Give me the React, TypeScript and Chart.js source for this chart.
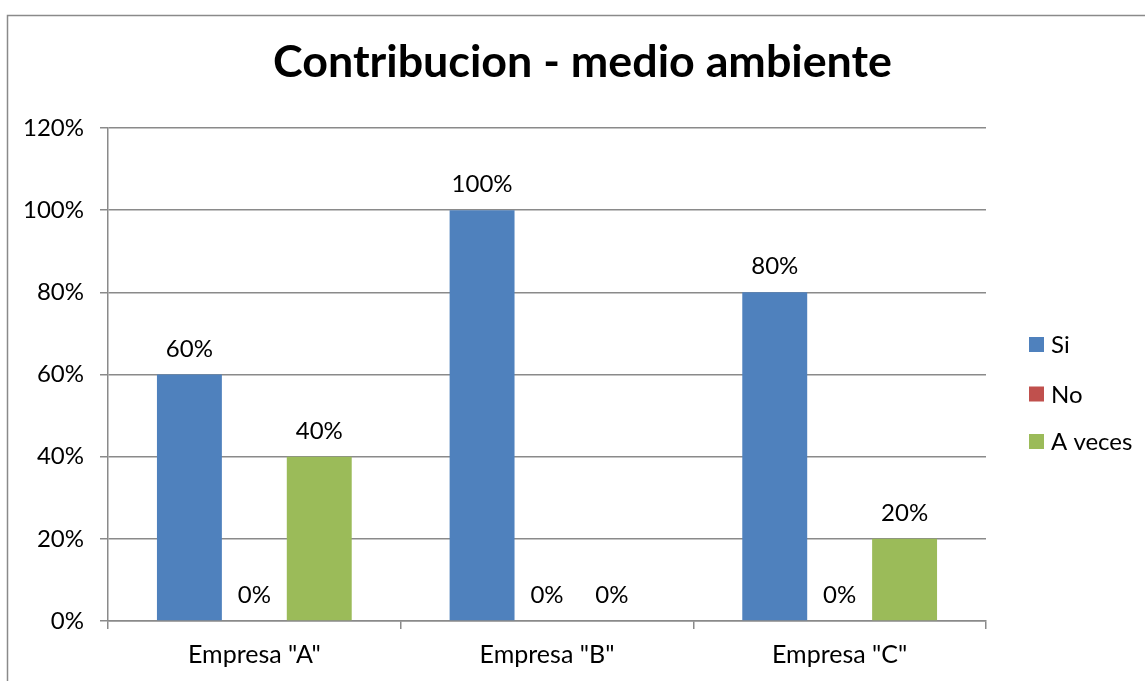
import React, { useEffect, useRef } from "react";
import { Chart, registerables } from "chart.js";

Chart.register(...registerables);

const categories = ['Empresa "A"', 'Empresa "B"', 'Empresa "C"'];
const seriesNames = ["Si", "No", "A veces"];
const siValues = [0.6, 1.0, 0.8];
const noValues = [0, 0, 0];
const aVecesValues = [0.4, 0, 0.2];
const seriesColors = ["#4F81BD", "#C0504D", "#9BBB59"];
const yMin = 0;
const yMax = 1.2;
const yStep = 0.2;
const titleText = "Contribucion - medio ambiente";

const FONT = "Lato, 'Liberation Sans', sans-serif";
const GRID = "#8a8a8a";

const pct = (v: number) => Math.round(v * 100) + "%";

const decorPlugin = {
  id: "decor",
  afterDraw(chart: any) {
    const ctx = chart.ctx as CanvasRenderingContext2D;
    ctx.save();
    // outer border
    ctx.strokeStyle = GRID;
    ctx.lineWidth = 1.5;
    ctx.strokeRect(7.5, 15.5, 1200, 800);

    // title
    ctx.fillStyle = "#000";
    ctx.font = `bold 37px ${FONT}`;
    const w = ctx.measureText(titleText).width;
    const size = 37 * (619 / w);
    ctx.font = `bold ${size}px ${FONT}`;
    ctx.textAlign = "center";
    ctx.textBaseline = "alphabetic";
    ctx.fillText(titleText, 582.5, 77);

    // data labels
    ctx.font = `24px ${FONT}`;
    ctx.textAlign = "center";
    ctx.textBaseline = "alphabetic";
    chart.data.datasets.forEach((ds: any, di: number) => {
      const meta = chart.getDatasetMeta(di);
      meta.data.forEach((el: any, i: number) => {
        ctx.fillText(pct(ds.data[i]), el.x, el.y - 18);
      });
    });

    // legend
    const legendY = [344.5, 394, 441.5];
    chart.data.datasets.forEach((ds: any, di: number) => {
      const cy = legendY[di];
      ctx.fillStyle = ds.backgroundColor;
      ctx.fillRect(1029, cy - 7.5, 15, 15);
      ctx.fillStyle = "#000";
      ctx.textAlign = "left";
      ctx.textBaseline = "middle";
      ctx.fillText(ds.label, 1051, cy + 1);
    });
    ctx.restore();
  },
};

export default function App() {
  const ref = useRef<HTMLCanvasElement | null>(null);
  useEffect(() => {
    if (!ref.current) return;
    const chart = new Chart(ref.current, {
      type: "bar",
      data: {
        labels: categories,
        datasets: [
          { label: seriesNames[0], data: siValues, backgroundColor: seriesColors[0] },
          { label: seriesNames[1], data: noValues, backgroundColor: seriesColors[1] },
          { label: seriesNames[2], data: aVecesValues, backgroundColor: seriesColors[2] },
        ],
      },
      options: {
        animation: false,
        responsive: false,
        maintainAspectRatio: false,
        layout: { padding: { left: 0, right: 159, top: 128, bottom: 0 } },
        datasets: { bar: { categoryPercentage: 0.6655, barPercentage: 1, borderWidth: 0 } },
        plugins: {
          legend: { display: false },
          title: { display: false },
          tooltip: { enabled: false },
        },
        scales: {
          x: {
            offset: true,
            grid: {
              offset: true,
              drawOnChartArea: false,
              drawTicks: true,
              tickLength: 8,
              color: GRID,
              lineWidth: 1.5,
            },
            border: { display: true, color: GRID, width: 1.5 },
            ticks: { color: "#000", font: { family: FONT, size: 25 }, padding: 11 },
            afterFit: (s: any) => { s.height = 60; },
          },
          y: {
            min: yMin,
            max: yMax,
            grid: { color: GRID, lineWidth: 1.5, tickLength: 8, drawTicks: true },
            border: { display: true, color: GRID, width: 1.5 },
            ticks: {
              stepSize: yStep,
              color: "#000",
              font: { family: FONT, size: 24 },
              padding: 16,
              callback: (v: any) => pct(Number(v)),
            },
            afterFit: (s: any) => { s.width = 108; },
          },
        },
      },
      plugins: [decorPlugin],
    });
    return () => chart.destroy();
  }, []);
  return (
    <div style={{ position: "fixed", left: 0, top: 0, width: 1145, height: 681, background: "#fff" }}>
      <canvas ref={ref} width={1145} height={681} style={{ width: 1145, height: 681 }} />
    </div>
  );
}
